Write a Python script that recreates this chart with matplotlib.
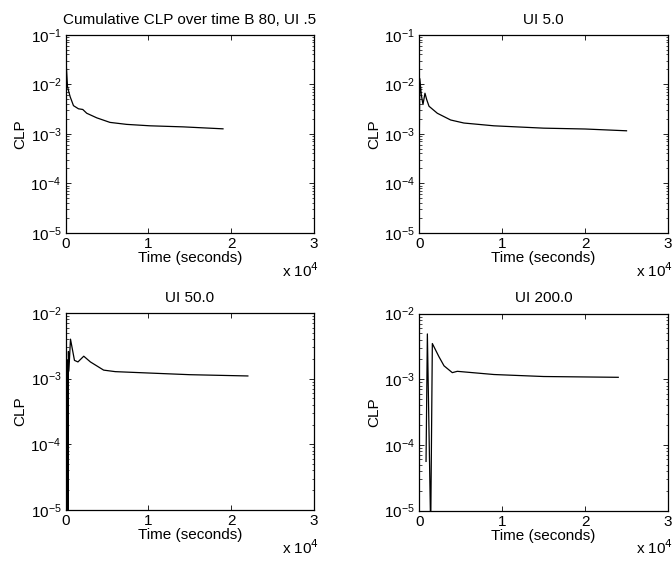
import matplotlib
matplotlib.use("Agg")
import matplotlib.pyplot as plt
from matplotlib.ticker import FuncFormatter, LogLocator

plt.rcParams['font.family'] = ['Liberation Sans', 'DejaVu Sans']
plt.rcParams['font.size'] = 11

# values (time in seconds, CLP)
t_05 = [0, 120, 240, 400, 560, 960, 1560, 2080, 2560, 3770, 5360, 7370, 10200, 14200, 19000]
clp_05 = [0.045, 0.02, 9e-3, 7e-3, 5.6e-3, 3.7e-3, 3.2e-3, 3.1e-3, 2.6e-3, 2.1e-3, 1.7e-3,
          1.55e-3, 1.45e-3, 1.38e-3, 1.26e-3]

t_5 = [0, 60, 240, 440, 680, 890, 1170, 2170, 3780, 5380, 9000, 15000, 20000, 25000]
clp_5 = [1e-3, 1.3e-2, 6.1e-3, 3.9e-3, 6.6e-3, 4.9e-3, 3.6e-3, 2.6e-3, 1.9e-3, 1.65e-3,
         1.45e-3, 1.3e-3, 1.25e-3, 1.15e-3]

t_50 = [100, 200, 250, 300, 350, 400, 600, 1080, 1500, 2200, 3000, 4600, 6000, 10000,
        15000, 22000]
clp_50 = [5e-6, 6.5e-5, 1.9e-3, 5e-6, 2.6e-3, 1.3e-3, 4e-3, 1.9e-3, 1.8e-3, 2.2e-3, 1.8e-3,
          1.35e-3, 1.28e-3, 1.22e-3, 1.15e-3, 1.1e-3]

t_200 = [810, 970, 1370, 1570, 2370, 2980, 3980, 4580, 9000, 15000, 24000]
clp_200 = [5.6e-5, 4.9e-3, 5e-6, 3.5e-3, 2.2e-3, 1.6e-3, 1.26e-3, 1.32e-3, 1.18e-3,
           1.1e-3, 1.07e-3]

titles = ['Cumulative CLP over time B 80, UI .5', 'UI 5.0', 'UI 50.0', 'UI 200.0']
ylims = [(1e-5, 1e-1), (1e-5, 1e-1), (1e-5, 1e-2), (1e-5, 1e-2)]

fig = plt.figure(figsize=(6.72, 5.61), dpi=100)
boxes = [[0.0975, 0.585, 0.370, 0.353],
         [0.624, 0.585, 0.370, 0.353],
         [0.0975, 0.091, 0.370, 0.351],
         [0.624, 0.090, 0.370, 0.351]]
series = [(t_05, clp_05), (t_5, clp_5), (t_50, clp_50), (t_200, clp_200)]

for box, (t, c), title, ylim in zip(boxes, series, titles, ylims):
    ax = fig.add_axes(box)
    ax.plot(t, c, color='black', lw=0.9)
    ax.set_yscale('log')
    ax.set_ylim(*ylim)
    ax.set_xlim(0, 30000)
    ax.set_xticks([0, 10000, 20000, 30000])
    ax.xaxis.set_major_formatter(FuncFormatter(lambda v, p: '%d' % round(v / 1e4)))
    ax.yaxis.set_major_locator(LogLocator(base=10, numticks=10))
    ax.yaxis.set_minor_locator(LogLocator(base=10, subs=range(2, 10), numticks=10))
    ax.tick_params(which='both', direction='in', top=True, right=True, labelsize=11)
    ax.tick_params(which='major', length=3.5, width=0.6, pad=3)
    ax.tick_params(which='minor', length=1.8, width=0.5)
    for s in ax.spines.values():
        s.set_linewidth(0.9)
    ax.set_title(title, fontsize=11, pad=8)
    ax.set_xlabel('Time (seconds)', labelpad=0)
    ax.set_ylabel('CLP', labelpad=2)
    ax.text(1.02, -0.19, r'x 10$^{4}$', transform=ax.transAxes, ha='right', va='center',
            fontsize=11)

fig.savefig('out.png', dpi=100)
